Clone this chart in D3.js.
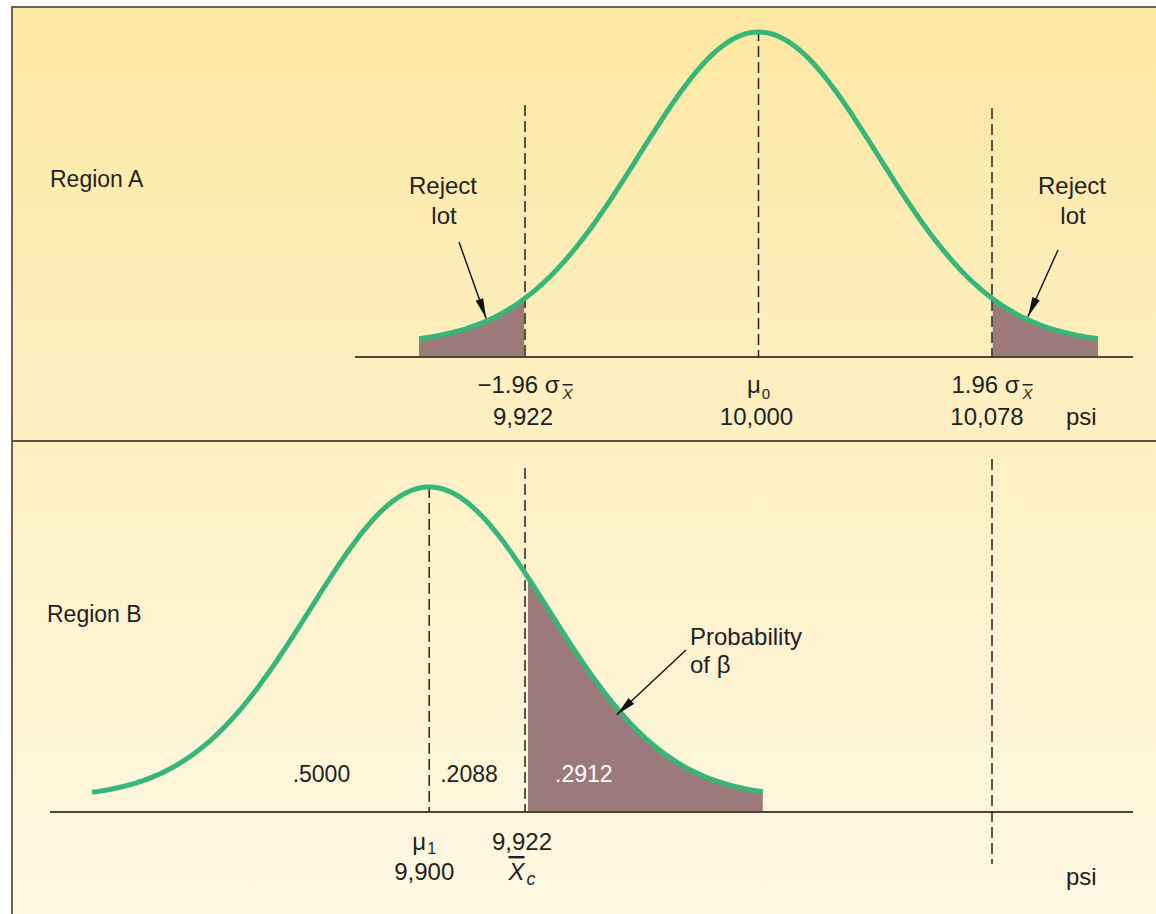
<!DOCTYPE html>
<html>
<head>
<meta charset="utf-8">
<script src="https://cdn.jsdelivr.net/npm/d3@7"></script>
<style>
  html, body { margin: 0; padding: 0; background: #fff; }
  svg { display: block; }
  text { font-family: "Liberation Sans", Arial, sans-serif; fill: #231f20; }
</style>
</head>
<body>
<svg id="chart" width="1156" height="914"></svg>
<script>
// ---- data ----
// region A : sampling distribution under H0
const muA = 10000;
const critLow = 9922;
const critHigh = 10078;
const sigmaXbar = (critHigh - muA) / 1.96;   // ~39.8 psi
const zSpan = 2.85;                          // how far the drawn tails run

// region B : true mean 9,900 (drawn off-scale in the figure)
const muB = 9900;
const muBDrawn = 9890;
const xcB = 9922;

const aTicks = [
  {v: critLow,  top: "\u22121.96 \u03c3", sub: "X", val: "9,922"},
  {v: muA,      top: "\u03bc", sub0: "0", val: "10,000"},
  {v: critHigh, top: "1.96 \u03c3", sub: "X", val: "10,078"}
];
const bProbs = [".5000", ".2088", ".2912"];

const W = 1156, H = 914;
const svg = d3.select("#chart");

// ---- background ----
const defs = svg.append("defs");
const grad = defs.append("linearGradient").attr("id", "bg")
  .attr("x1", 0).attr("y1", 0).attr("x2", 0).attr("y2", 1);
grad.append("stop").attr("offset", "0%").attr("stop-color", "#fde8a3");
grad.append("stop").attr("offset", "48%").attr("stop-color", "#fdf0c4");
grad.append("stop").attr("offset", "100%").attr("stop-color", "#fef8e3");

defs.append("marker").attr("id", "arr")
  .attr("viewBox", "0 0 20 8").attr("refX", 20).attr("refY", 4)
  .attr("markerWidth", 20).attr("markerHeight", 8)
  .attr("markerUnits", "userSpaceOnUse").attr("orient", "auto")
  .append("path").attr("d", "M0,0L20,4L0,8Z").attr("fill", "#111");

svg.append("rect").attr("x", 12).attr("y", 7).attr("width", W).attr("height", H)
  .attr("fill", "url(#bg)");
svg.append("path").attr("d", `M12,${H}V7H${W}`)
  .attr("fill", "none").attr("stroke", "#6b6450").attr("stroke-width", 2);
svg.append("line").attr("x1", 12).attr("x2", W).attr("y1", 441).attr("y2", 441)
  .attr("stroke", "#5a5240").attr("stroke-width", 2);

// ---- scales ----
const x = d3.scaleLinear().domain([critLow, critHigh]).range([525, 992]);
const yA = d3.scaleLinear().domain([0, 1]).range([344, 32]);
const yB = d3.scaleLinear().domain([0, 1]).range([798, 487]);
const axisA = 357, axisB = 812;

const dens = (v, mu) => Math.exp(-0.5 * ((v - mu) / sigmaXbar) ** 2);
const grid = (lo, hi) => d3.range(0, 201).map(i => lo + (hi - lo) * i / 200);

const green = "#37b67a", mauve = "#9d7a7a";

// ---- region A ----
const gA = svg.append("g");
const ptsA = grid(muA - zSpan * sigmaXbar, muA + zSpan * sigmaXbar);
const areaA = d3.area().x(d => x(d)).y0(axisA).y1(d => yA(dens(d, muA)));
gA.append("path").datum(ptsA.filter(d => d <= critLow)).attr("d", areaA).attr("fill", mauve);
gA.append("path").datum(ptsA.filter(d => d >= critHigh)).attr("d", areaA).attr("fill", mauve);

gA.append("line").attr("x1", 355).attr("x2", 1133).attr("y1", axisA).attr("y2", axisA)
  .attr("stroke", "#4d4638").attr("stroke-width", 2);

const dash = "11,5";
[[critLow, 105], [muA, 30], [critHigh, 108]].forEach(([v, top]) => {
  gA.append("line").attr("x1", x(v)).attr("x2", x(v)).attr("y1", top).attr("y2", axisA)
    .attr("stroke", "#222").attr("stroke-width", 1.5).attr("stroke-dasharray", dash);
});

gA.append("path").datum(ptsA)
  .attr("d", d3.line().x(d => x(d)).y(d => yA(dens(d, muA))))
  .attr("fill", "none").attr("stroke", green).attr("stroke-width", 5);

gA.append("text").attr("x", 50).attr("y", 187).attr("font-size", 23).text("Region A");

// reject lot labels
[[443, 459, 242, critLow - 13], [1072, 1058, 250, critHigh + 12]].forEach(([cx, ax, ay, v]) => {
  const t = gA.append("text").attr("text-anchor", "middle").attr("font-size", 24);
  t.append("tspan").attr("x", cx).attr("y", 194).text("Reject");
  t.append("tspan").attr("x", cx + 1).attr("y", 224).text("lot");
  gA.append("line").attr("x1", ax).attr("y1", ay)
    .attr("x2", x(v)).attr("y2", yA(dens(v, muA)) - 3)
    .attr("stroke", "#111").attr("stroke-width", 1.4).attr("marker-end", "url(#arr)");
});

// tick labels
aTicks.forEach(d => {
  const t = gA.append("text").attr("x", x(d.v)).attr("y", 393)
    .attr("text-anchor", "middle").attr("font-size", 24);
  t.append("tspan").text(d.top);
  if (d.sub) {
    t.append("tspan").attr("dx", 3).attr("dy", 6).attr("font-size", 15)
      .attr("font-style", "italic").attr("text-decoration", "overline").text(d.sub);
  }
  if (d.sub0) {
    t.append("tspan").attr("dx", 1).attr("dy", 6).attr("font-size", 15).text(d.sub0);
  }
  gA.append("text").attr("x", x(d.v) - (d.v === critHigh ? 5 : 2)).attr("y", 425)
    .attr("text-anchor", "middle").attr("font-size", 24).text(d.val);
});
gA.append("text").attr("x", 1066).attr("y", 425).attr("font-size", 24).text("psi");

// ---- region B ----
const gB = svg.append("g");
const ptsB = grid(muBDrawn - 2.83 * sigmaXbar, muBDrawn + 2.8 * sigmaXbar);
const areaB = d3.area().x(d => x(d)).y0(axisB).y1(d => yB(dens(d, muBDrawn)));
gB.append("path").datum(ptsB.filter(d => d >= xcB)).attr("d", areaB).attr("fill", mauve);

gB.append("line").attr("x1", 50).attr("x2", 1133).attr("y1", axisB).attr("y2", axisB)
  .attr("stroke", "#4d4638").attr("stroke-width", 2);

[[muBDrawn, 487, axisB], [xcB, 468, axisB], [critHigh, 459, 864]].forEach(([v, top, bot]) => {
  gB.append("line").attr("x1", x(v)).attr("x2", x(v)).attr("y1", top).attr("y2", bot)
    .attr("stroke", "#222").attr("stroke-width", 1.5).attr("stroke-dasharray", dash);
});

gB.append("path").datum(ptsB)
  .attr("d", d3.line().x(d => x(d)).y(d => yB(dens(d, muBDrawn))))
  .attr("fill", "none").attr("stroke", green).attr("stroke-width", 5);

gB.append("text").attr("x", 47).attr("y", 622).attr("font-size", 23).text("Region B");

// probability of beta
const pb = gB.append("text").attr("font-size", 24);
pb.append("tspan").attr("x", 690).attr("y", 645).text("Probability");
pb.append("tspan").attr("x", 690).attr("y", 673).text("of \u03b2");
const bv = 9922 + 32;
gB.append("line").attr("x1", 686).attr("y1", 650)
  .attr("x2", x(bv) - 4).attr("y2", yB(dens(bv, muBDrawn)) + 2)
  .attr("stroke", "#111").attr("stroke-width", 1.4).attr("marker-end", "url(#arr)");

// area probabilities
gB.append("text").attr("x", x(muBDrawn) - 79).attr("y", 782).attr("text-anchor", "end")
  .attr("font-size", 23).text(bProbs[0]);
gB.append("text").attr("x", x(muBDrawn) + 11).attr("y", 782)
  .attr("font-size", 23).text(bProbs[1]);
gB.append("text").attr("x", x(xcB) + 30).attr("y", 782)
  .attr("font-size", 23).style("fill", "#fff").text(bProbs[2]);

// B tick labels
const m1 = gB.append("text").attr("x", x(muBDrawn) - 5).attr("y", 850)
  .attr("text-anchor", "middle").attr("font-size", 24);
m1.append("tspan").text("\u03bc");
m1.append("tspan").attr("dx", 1).attr("dy", 4).attr("font-size", 16).text("1");
gB.append("text").attr("x", x(muBDrawn) - 5).attr("y", 880)
  .attr("text-anchor", "middle").attr("font-size", 24).text(d3.format(",")(muB));
gB.append("text").attr("x", x(xcB) - 3).attr("y", 850)
  .attr("text-anchor", "middle").attr("font-size", 24).text(d3.format(",")(xcB));
const xc = gB.append("text").attr("x", x(xcB) - 3).attr("y", 880)
  .attr("text-anchor", "middle").attr("font-size", 24).attr("font-style", "italic");
xc.append("tspan").attr("text-decoration", "overline").text("X");
xc.append("tspan").attr("dx", 2).attr("dy", 5).attr("font-size", 18).text("c");
gB.append("text").attr("x", 1066).attr("y", 885).attr("font-size", 24).text("psi");
</script>
</body>
</html>
